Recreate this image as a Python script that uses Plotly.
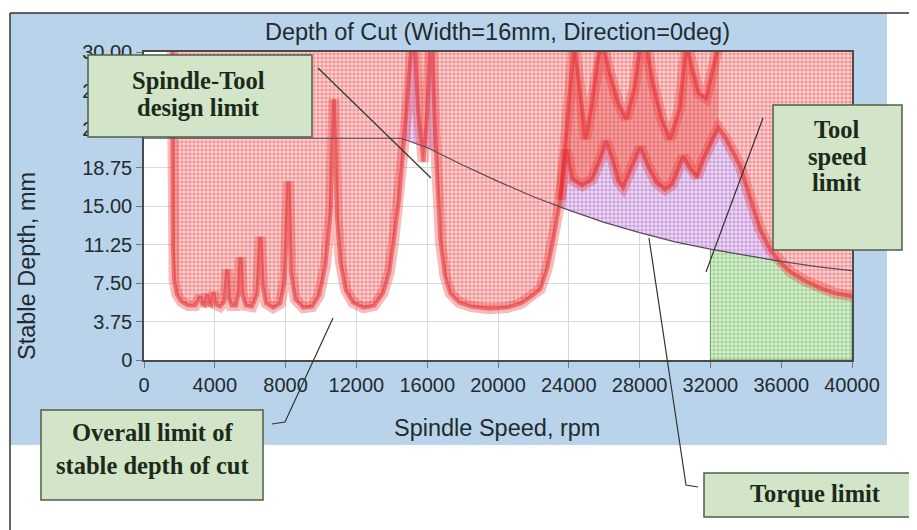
import plotly.graph_objects as go

# ---------------- data ----------------
# overall stability-lobe boundary (rpm, stable depth mm)
speed_rpm = [1580, 1600, 1630, 1700, 1850, 2100, 2500, 2900, 3190, 3300, 3450, 3570, 3680, 3800,
             3920, 4050, 4300, 4550, 4700, 4800, 4950, 5200, 5380, 5450, 5550, 5750, 6100, 6400,
             6580, 6700, 6900, 7300, 7700, 7950, 8160, 8300, 8550, 9000, 9500, 9900, 10250, 10550,
             10730, 10900, 11100, 11400, 11800, 12400, 13000, 13500, 13850, 14100, 14400, 14650,
             14950, 15220, 15500, 15780, 16000, 16230, 16450, 16740, 17000, 17300, 17800, 18500,
             19500, 20500, 21300, 21900, 22390, 22800, 23120, 23520, 23850, 24190, 24760, 25320,
             25770, 26110, 26460, 26800, 27070, 27470, 28030, 28490, 28940, 29440, 29840, 30460,
             30860, 31250, 31590, 32000, 32450, 32900, 33680, 34240, 34810, 35370, 35940, 36500,
             37350, 38200, 39050, 40000]
depth_mm = [32.0, 20.0, 11.0, 7.8, 6.4, 5.7, 5.3, 5.3, 6.2, 5.4, 5.3, 6.4, 5.4, 5.3,
            6.6, 5.4, 5.2, 5.7, 8.8, 6.0, 5.3, 5.3, 6.8, 10.0, 6.4, 5.3, 5.2, 6.4,
            12.0, 7.2, 5.5, 5.1, 5.5, 7.8, 17.4, 8.6, 5.9, 5.1, 5.2, 6.3, 9.2, 14.5,
            25.4, 14.0, 9.5, 6.8, 5.6, 5.1, 5.3, 6.5, 8.5, 11.5, 15.5, 20.5,
            26.0, 33.0, 24.0, 19.3, 24.0, 33.0, 22.0, 11.7, 8.2, 6.5, 5.6, 5.2,
            5.0, 5.1, 5.5, 6.2, 6.9, 9.0, 11.7, 15.6, 20.5, 17.6, 17.0, 17.6,
            19.5, 21.3, 19.5, 17.4, 16.8, 18.4, 20.7, 18.8, 17.3, 16.6, 17.1, 19.8,
            18.6, 17.8, 19.5, 21.0, 22.6, 21.5, 18.9, 15.8, 12.7, 10.75, 9.5, 8.6,
            7.7, 7.0, 6.5, 6.2]

# secondary lobe family drawn above the overall limit (24000-32500 rpm)
upper_rpm = [23520, 23900, 24300, 24650, 24950, 25300, 25650, 25900, 26300, 26800, 27250, 27700,
             28050, 28350, 28750, 29250, 29720, 30250, 30650, 30950, 31350, 31750, 32150, 32500]
upper_depth = [15.6, 23.0, 31.0, 26.0, 21.5, 25.0, 29.5, 31.0, 28.0, 25.0, 23.5, 26.5,
               31.0, 31.0, 27.0, 23.5, 21.5, 24.5, 31.0, 28.5, 26.0, 25.5, 28.5, 31.0]

# torque limit
torque_rpm = [0, 14500, 16000, 18000, 20000, 22000, 24000, 26000, 28000, 30000, 32000, 34000,
              36000, 38000, 40000]
torque_depth = [21.6, 21.6, 20.7, 19.0, 17.4, 15.9, 14.6, 13.4, 12.4, 11.5, 10.8, 10.2,
                9.6, 9.1, 8.7]

tool_speed_limit = 32000
x_ticks = [0, 4000, 8000, 12000, 16000, 20000, 24000, 28000, 32000, 36000, 40000]
y_ticks = [0, 3.75, 7.5, 11.25, 15.0, 18.75, 22.5, 26.25, 30.0]
y_ticktext = ["0", "3.75", "7.50", "11.25", "15.00", "18.75", "22.50", "26.25", "30.00"]
top_depth = 31.0

# ---------------- layout geometry (screen pixels; page body has an 8px margin) ----------------
OFF = 8
W, H = 917 - OFF, 530 - OFF
L, R, T, B = 136, 65, 44, 170
PW, PH = W - L - R, H - T - B


def fx(px):
    return (px - OFF - L) / PW


def fy(py):
    return (H - B - (py - OFF)) / PH


fig = go.Figure()

# green: above tool speed limit, below torque
g_rpm = [r for r in torque_rpm if r >= tool_speed_limit]
g_dep = [d for r, d in zip(torque_rpm, torque_depth) if r >= tool_speed_limit]
fig.add_trace(go.Scatter(
    x=g_rpm + [g_rpm[-1], g_rpm[0], g_rpm[0]], y=g_dep + [0, 0, g_dep[0]],
    mode="lines", fill="toself", line=dict(color="#5f9e5a", width=1),
    fillcolor="#dcefd4",
    fillpattern=dict(shape=".", size=4, solidity=0.6, fgcolor="#6cbd60", bgcolor="#def0d6"),
    hoverinfo="skip", showlegend=False))

# purple: above torque limit
p_rpm = [speed_rpm[0]] + [r for r in torque_rpm if r > speed_rpm[0]]
p_dep = [torque_depth[0]] + [d for r, d in zip(torque_rpm, torque_depth) if r > speed_rpm[0]]
fig.add_trace(go.Scatter(
    x=p_rpm + [p_rpm[-1], p_rpm[0]], y=p_dep + [top_depth, top_depth],
    mode="lines", fill="toself", line=dict(width=0),
    fillcolor="#efdcf3",
    fillpattern=dict(shape=".", size=4, solidity=0.6, fgcolor="#a968c8", bgcolor="#f0def3"),
    hoverinfo="skip", showlegend=False))

# red: unstable region above the stability boundary
fig.add_trace(go.Scatter(
    x=speed_rpm + [speed_rpm[-1], speed_rpm[0]], y=depth_mm + [top_depth, top_depth],
    mode="lines", fill="toself", line=dict(width=0),
    fillcolor="#fbd6d6",
    fillpattern=dict(shape=".", size=4, solidity=0.6, fgcolor="#ec4c4c", bgcolor="#fcdcdc"),
    hoverinfo="skip", showlegend=False))

# dense band mass between the overall limit and the secondary lobe family
lo, hi = upper_rpm[0], upper_rpm[-1]
mid_r = [r for r in speed_rpm if lo <= r <= hi]
mid_d = [d for r, d in zip(speed_rpm, depth_mm) if lo <= r <= hi]
fig.add_trace(go.Scatter(
    x=upper_rpm + mid_r[::-1], y=upper_depth + mid_d[::-1],
    mode="lines", fill="toself", line=dict(width=0),
    fillcolor="rgba(228,50,50,0.32)", hoverinfo="skip", showlegend=False))

# red bands (lobe curves)
for xs, ys in ((speed_rpm, depth_mm), (upper_rpm, upper_depth)):
    fig.add_trace(go.Scatter(x=xs, y=ys, mode="lines",
                             line=dict(color="rgba(236,60,60,0.35)", width=11),
                             hoverinfo="skip", showlegend=False))
    fig.add_trace(go.Scatter(x=xs, y=ys, mode="lines",
                             line=dict(color="rgba(226,35,40,0.5)", width=4),
                             hoverinfo="skip", showlegend=False))

# torque limit line
fig.add_trace(go.Scatter(x=torque_rpm, y=torque_depth, mode="lines",
                         line=dict(color="#5a4a5a", width=1.2),
                         hoverinfo="skip", showlegend=False))

shapes = []
# light blue panel and white plot area
shapes.append(dict(type="rect", xref="paper", yref="paper", layer="below",
                   x0=fx(10), x1=fx(887), y0=fy(445), y1=fy(13),
                   fillcolor="#b9d4ea", line=dict(width=0)))
shapes.append(dict(type="rect", xref="paper", yref="paper", layer="below",
                   x0=0, x1=1, y0=0, y1=1, fillcolor="white", line=dict(width=0)))
# frame lines
shapes.append(dict(type="line", xref="paper", yref="paper", x0=fx(10), x1=fx(917),
                   y0=fy(13), y1=fy(13), line=dict(color="#333333", width=1.5)))
shapes.append(dict(type="line", xref="paper", yref="paper", x0=fx(10), x1=fx(10),
                   y0=fy(13), y1=fy(530), line=dict(color="#333333", width=1.5)))

# leader lines
lead = dict(color="#333333", width=1.2)
shapes.append(dict(type="path", xref="paper", yref="paper",
                   path=f"M {fx(318)},{fy(68)} L {fx(431)},{fy(178)}", line=lead))
shapes.append(dict(type="path", xref="paper", yref="paper",
                   path=f"M {fx(272)},{fy(424)} L {fx(285)},{fy(422)} L {fx(333)},{fy(318)}", line=lead))
shapes.append(dict(type="path", xref="paper", yref="paper",
                   path=f"M {fx(698)},{fy(487)} L {fx(686)},{fy(485)} L {fx(649)},{fy(238)}", line=lead))
shapes.append(dict(type="path", xref="paper", yref="paper",
                   path=f"M {fx(763)},{fy(118)} L {fx(706)},{fy(272)}", line=lead))

# annotation boxes
box_fill, box_line = "#d3e5c8", "#4f5f48"
for (x0, y0, x1, y1) in [(88, 55, 312, 137), (773, 105, 902, 250), (41, 410, 263, 500), (704, 473, 925, 517)]:
    shapes.append(dict(type="rect", xref="paper", yref="paper", layer="above",
                       x0=fx(x0), x1=fx(x1), y0=fy(y1), y1=fy(y0),
                       fillcolor=box_fill, line=dict(color=box_line, width=1.5)))

annotations = []
serif = dict(family="Liberation Serif, Times New Roman, serif", size=24.5, color="#1b2a1b")
for text, px, py in [("Spindle-Tool", 198, 80), ("design limit", 198, 108),
                     ("Tool", 837, 129), ("speed", 837, 156), ("limit", 837, 182),
                     ("Overall limit of", 152, 432), ("stable depth of cut", 152, 465),
                     ("Torque limit", 815, 494)]:
    annotations.append(dict(text=f"<b>{text}</b>", x=fx(px), y=fy(py), xref="paper", yref="paper",
                            showarrow=False, font=serif, xanchor="center", yanchor="middle",
                            align="center"))

sans = dict(family="Liberation Sans, Arial, sans-serif", size=23.5, color="#222a30")
annotations.append(dict(text="Depth of Cut (Width=16mm, Direction=0deg)", x=fx(497), y=fy(32),
                        xref="paper", yref="paper", showarrow=False, font=sans,
                        xanchor="center", yanchor="middle"))
annotations.append(dict(text="Spindle Speed, rpm", x=fx(497), y=fy(428),
                        xref="paper", yref="paper", showarrow=False, font=sans,
                        xanchor="center", yanchor="middle"))
annotations.append(dict(text="Stable Depth, mm", x=fx(27), y=fy(266), textangle=-90,
                        xref="paper", yref="paper", showarrow=False, font=sans,
                        xanchor="center", yanchor="middle"))

fig.update_layout(
    width=W, height=H, autosize=False,
    margin=dict(l=L, r=R, t=T, b=B, pad=0),
    paper_bgcolor="white", plot_bgcolor="white",
    shapes=shapes, annotations=annotations,
    showlegend=False,
)
axis_common = dict(showgrid=True, gridcolor="#d9d9d9", gridwidth=1, zeroline=False,
                   showline=True, linecolor="#4a4a4a", linewidth=1.5, mirror=True,
                   ticks="outside", ticklen=6, tickcolor="#777777",
                   tickfont=dict(family="Liberation Sans, Arial, sans-serif", size=20, color="#222a30"),
                   automargin=False)
fig.update_xaxes(range=[0, 40000], tickvals=x_ticks, ticktext=[str(v) for v in x_ticks],
                 **axis_common)
fig.update_yaxes(range=[0, 30], tickvals=y_ticks, ticktext=y_ticktext, **axis_common)

fig.write_html("out.html")
